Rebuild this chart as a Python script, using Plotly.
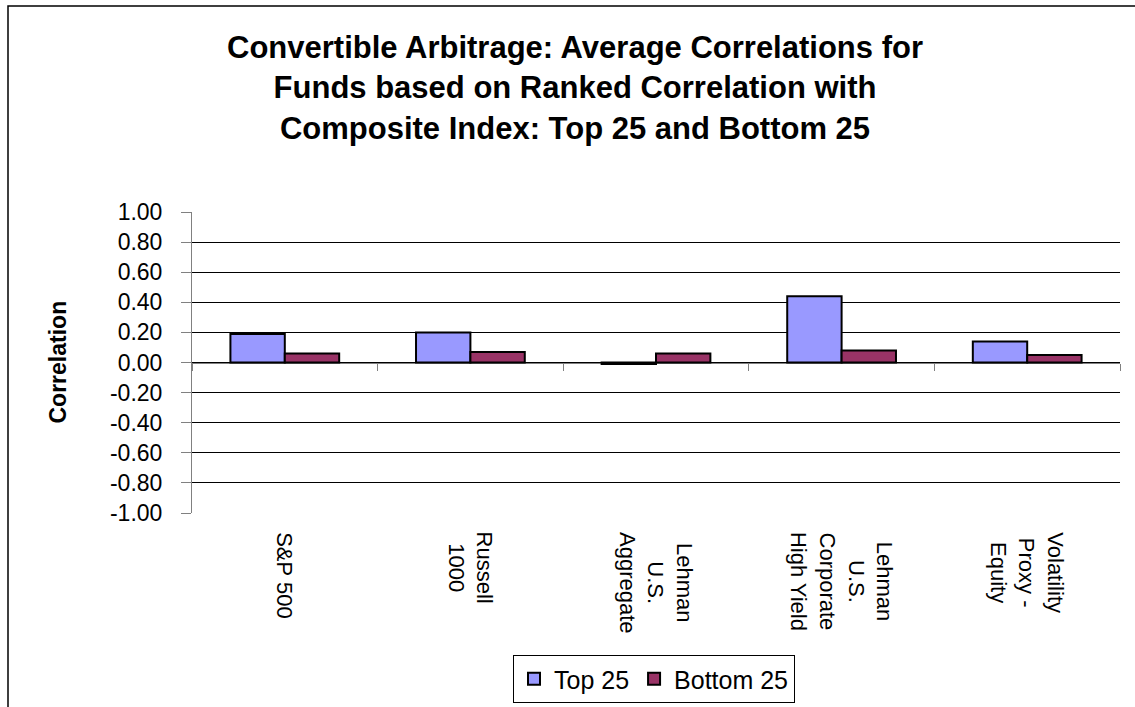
import plotly.graph_objects as go

# ---- data ----
categories = ["S&P 500", "Russell<br>1000", "Lehman<br>U.S.<br>Aggregate",
              "Lehman<br>U.S.<br>Corporate<br>High Yield", "Volatility<br>Proxy -<br>Equity"]
top25 = [0.19, 0.20, -0.01, 0.44, 0.14]
bottom25 = [0.06, 0.07, 0.06, 0.08, 0.05]
series_names = ["Top 25", "Bottom 25"]
tick_vals = [1.0, 0.8, 0.6, 0.4, 0.2, 0.0, -0.2, -0.4, -0.6, -0.8, -1.0]
tick_text = ["1.00", "0.80", "0.60", "0.40", "0.20", "0.00",
             "-0.20", "-0.40", "-0.60", "-0.80", "-1.00"]
title_text = ("Convertible Arbitrage: Average Correlations for<br>"
              "Funds based on Ranked Correlation with<br>"
              "Composite Index: Top 25 and Bottom 25")
y_title = "Correlation"

# ---- layout geometry (pixels) ----
W, H = 1135, 707
ML, MR, MT, MB = 192, 15, 212, 194
PW, PH = W - ML - MR, H - MT - MB


def px_x(px):
    return (px - ML) / PW


def px_y(py):
    return (H - MB - py) / PH


FONT = "Liberation Sans, Arial, sans-serif"

fig = go.Figure()
fig.add_trace(go.Bar(x=categories, y=top25, name=series_names[0],
                     marker=dict(color="#9999FF", line=dict(color="black", width=2))))
fig.add_trace(go.Bar(x=categories, y=bottom25, name=series_names[1],
                     marker=dict(color="#993366", line=dict(color="black", width=2))))

annotations = []
for c in categories:
    annotations.append(dict(x=c, xref="x", y=px_y(530), yref="paper",
                            text=c, showarrow=False, textangle=90,
                            xanchor="center", yanchor="top", align="center",
                            font=dict(family=FONT, size=22, color="black")))
annotations.append(dict(x=px_x(57), xref="paper", y=0.5, yref="paper",
                        text="<b>" + y_title + "</b>", showarrow=False, textangle=-90,
                        xanchor="center", yanchor="middle",
                        font=dict(family=FONT, size=23, color="black")))

fig.update_layout(
    width=W, height=H,
    margin=dict(l=ML, r=MR, t=MT, b=MB, pad=0),
    paper_bgcolor="white", plot_bgcolor="white",
    font=dict(family=FONT, color="black"),
    title=dict(text="<b>" + title_text + "</b>", x=575 / W, xref="container", xanchor="center",
               y=1 - 58 / H, yref="container", yanchor="top",
               font=dict(family=FONT, size=31, color="black")),
    barmode="group", bargap=0.414, bargroupgap=0,
    showlegend=True,
    legend=dict(orientation="h", x=px_x(654), xanchor="center", xref="paper",
                y=(H - 703) / H, yanchor="bottom", yref="container",
                bgcolor="white", bordercolor="black", borderwidth=1,
                font=dict(family=FONT, size=25, color="black"),
                traceorder="normal"),
    xaxis=dict(type="category", anchor="free", position=0.5,
               showline=True, linecolor="#808080", linewidth=1,
               ticks="outside", tickson="boundaries", ticklen=7, tickcolor="#808080",
               showticklabels=False, showgrid=False, zeroline=False,
               layer="below traces", fixedrange=True),
    yaxis=dict(range=[-1, 1], tickvals=tick_vals, ticktext=tick_text,
               ticks="outside", ticklen=10, tickcolor="#808080", ticklabelstandoff=14,
               tickfont=dict(family=FONT, size=23, color="black"),
               showline=True, linecolor="#808080", linewidth=1,
               showgrid=True, gridcolor="black", gridwidth=1,
               zeroline=False, fixedrange=True),
    annotations=annotations,
    shapes=[dict(type="rect", xref="paper", yref="paper",
                 x0=px_x(8), x1=px_x(W + 20), y0=px_y(H + 20), y1=px_y(6),
                 line=dict(color="black", width=1.5), fillcolor="rgba(0,0,0,0)",
                 layer="above")],
)

fig.write_html("out.html")
